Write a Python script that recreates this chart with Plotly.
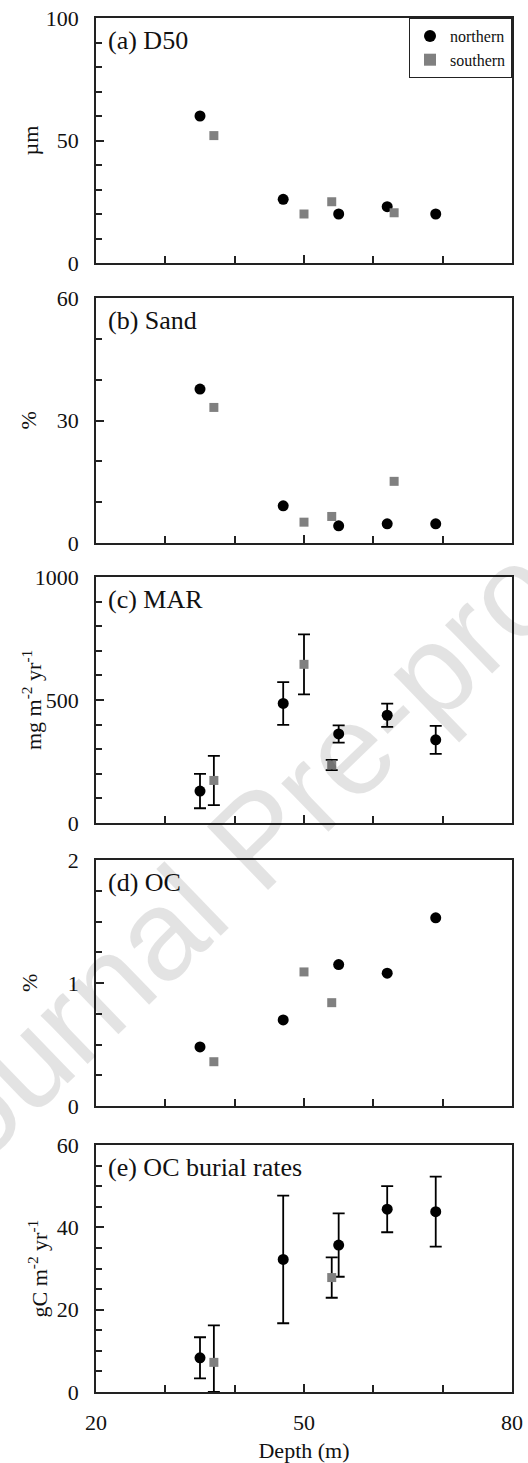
import plotly.graph_objects as go

# ---------------- data ----------------
depth_n = [35, 47, 55, 62, 69]
depth_s = [37, 50, 54, 63]

d50_n = [60, 26, 20, 23, 20]
d50_s = [52, 20, 25, 20.5]

sand_n = [37.7, 9.1, 4.2, 4.7, 4.7]
sand_s = [33.2, 5.1, 6.5, 15.1]

mar_n = [130, 486, 362, 438, 338]
mar_n_err = [70, 87, 35, 47, 57]
mar_s = [173, 645, 236, None]
mar_s_err = [100, 122, 21, None]

oc_n = [0.48, 0.70, 1.15, 1.08, 1.53]
oc_s = [0.36, 1.09, 0.84, None]

ocb_n = [8.3, 32.2, 35.7, 44.4, 43.8]
ocb_n_err = [5.0, 15.5, 7.7, 5.6, 8.5]
ocb_s = [7.2, None, 27.8, None]
ocb_s_err_plus = [9.0, None, 4.9, None]
ocb_s_err_minus = [7.2, None, 4.9, None]

panel_labels = ["(a) D50", "(b) Sand", "(c) MAR", "(d) OC", "(e) OC burial rates"]
y_titles = ["µm", "%", "mg m<sup>-2</sup> yr<sup>-1</sup>", "%", "gC m<sup>-2</sup> yr<sup>-1</sup>"]
y_ranges = [[0, 100], [0, 60], [0, 1000], [0, 2], [0, 60]]
y_dticks = [50, 30, 500, 1, 20]
y_minor = [10, 10, 100, 0.25, 5]
x_title = "Depth (m)"
legend_names = ["northern", "southern"]

# ---------------- style ----------------
FONT = "Liberation Serif"
W, H = 528, 1463
ML, MR, MT, MB = 96, 16, 18, 71
plot_h = H - MT - MB
plot_w = W - ML - MR
panel_px = [(18, 263), (298, 543), (577, 823), (860, 1106), (1145, 1392)]
title_x_px = [30, 28, 32, 29, 37]


def frac_y(p):
    return (H - MB - p) / plot_h


def clean(xs, ys, *errs):
    keep = [i for i, v in enumerate(ys) if v is not None]
    out = [[xs[i] for i in keep], [ys[i] for i in keep]]
    for e in errs:
        out.append([e[i] for i in keep] if e is not None else None)
    return out


fig = go.Figure()

north_marker = dict(symbol="circle", size=11, color="black")
south_marker = dict(symbol="square", size=9, color="#808080")
err_style = dict(color="black", thickness=1.8, width=6)

series = [
    (d50_n, None, None, d50_s, None, None),
    (sand_n, None, None, sand_s, None, None),
    (mar_n, mar_n_err, mar_n_err, mar_s, mar_s_err, mar_s_err),
    (oc_n, None, None, oc_s, None, None),
    (ocb_n, ocb_n_err, ocb_n_err, ocb_s, ocb_s_err_plus, ocb_s_err_minus),
]

for i, (yn, en_p, en_m, ys, es_p, es_m) in enumerate(series):
    ax = "" if i == 0 else str(i + 1)
    xn, yn2, enp, enm = clean(depth_n, yn, en_p, en_m)
    xs, ys2, esp, esm = clean(depth_s, ys, es_p, es_m)
    tn = dict(x=xn, y=yn2, mode="markers", marker=north_marker, name=legend_names[0],
              showlegend=(i == 0), legendgroup="n", xaxis="x" + ax, yaxis="y" + ax)
    if enp is not None:
        tn["error_y"] = dict(type="data", array=enp, arrayminus=enm, symmetric=False, **err_style)
    ts = dict(x=xs, y=ys2, mode="markers", marker=south_marker, name=legend_names[1],
              showlegend=(i == 0), legendgroup="s", xaxis="x" + ax, yaxis="y" + ax)
    if esp is not None:
        ts["error_y"] = dict(type="data", array=esp, arrayminus=esm, symmetric=False, **err_style)
    fig.add_trace(go.Scatter(**tn))
    fig.add_trace(go.Scatter(**ts))

layout = dict(
    width=W, height=H,
    margin=dict(l=ML, r=MR, t=MT, b=MB, autoexpand=False),
    paper_bgcolor="white", plot_bgcolor="white",
    font=dict(family=FONT, color="#111", size=22),
    showlegend=True,
    legend=dict(x=1, y=1, xanchor="right", yanchor="top", bgcolor="white",
                bordercolor="#222", borderwidth=1, font=dict(family=FONT, size=16, color="#111"),
                tracegroupgap=0, itemsizing="constant"),
)

annotations = []
for i in range(5):
    ax = "" if i == 0 else str(i + 1)
    top, bot = panel_px[i]
    layout["xaxis" + ax] = dict(
        domain=[0, 1], anchor="y" + ax, range=[20, 80], automargin=False,
        tick0=20, dtick=30, ticks="inside", ticklen=8, tickwidth=1.5, tickcolor="#222",
        minor=dict(tick0=20, dtick=10, ticks="inside", ticklen=7, tickwidth=1.5, tickcolor="#222"),
        showline=True, linecolor="#222", linewidth=1.8, mirror=True,
        showgrid=False, zeroline=False,
        showticklabels=(i == 4), ticklabelstandoff=10,
        tickfont=dict(family=FONT, size=22, color="#111"),
    )
    if i == 4:
        layout["xaxis" + ax]["title"] = dict(text=x_title, font=dict(family=FONT, size=22, color="#111"), standoff=8)
    layout["yaxis" + ax] = dict(
        domain=[frac_y(bot), frac_y(top)], anchor="x" + ax, range=y_ranges[i], automargin=False,
        tick0=0, dtick=y_dticks[i], ticks="inside", ticklen=8, tickwidth=1.5, tickcolor="#222",
        minor=dict(tick0=0, dtick=y_minor[i], ticks="inside", ticklen=6, tickwidth=1.5, tickcolor="#222"),
        showline=True, linecolor="#222", linewidth=1.8, mirror=True,
        showgrid=False, zeroline=False, ticklabelstandoff=11,
        tickfont=dict(family=FONT, size=22, color="#111"),
    )
    annotations.append(dict(
        text=panel_labels[i], xref="x" + ax + " domain", yref="y" + ax + " domain",
        x=0.025, y=0.975, xanchor="left", yanchor="top", showarrow=False,
        font=dict(family=FONT, size=26, color="#111"),
    ))
    annotations.append(dict(
        text=y_titles[i], xref="paper", yref="y" + ax + " domain",
        x=(title_x_px[i] - ML) / plot_w, y=0.5, xanchor="center", yanchor="middle",
        textangle=-90, showarrow=False, font=dict(family=FONT, size=22, color="#111"),
    ))

# watermark
annotations.append(dict(
    text="Journal Pre-proof", xref="paper", yref="paper",
    x=(257 - ML) / plot_w, y=frac_y(838), xanchor="center", yanchor="middle",
    textangle=-44, showarrow=False,
    font=dict(family="Liberation Sans", size=128, color="rgba(0,0,0,0.11)"),
))

layout["annotations"] = annotations
fig.update_layout(**layout)
fig.write_html("out.html", config={"displayModeBar": False},
               post_script="document.body.style.margin='0';")
